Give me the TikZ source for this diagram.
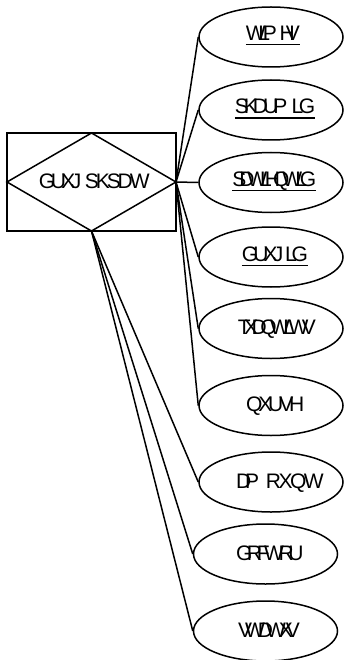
\documentclass[tikz,border=0pt]{standalone}
\usepackage{fontspec}
\setmainfont{Liberation Sans}
\usetikzlibrary{shapes.geometric}
\ExplSyntaxOn
\NewDocumentCommand\trk{mm}{\hbox{\tl_map_inline:nn{#2}{##1\kern#1}\unkern}}
\ExplSyntaxOff
\newcommand\lgap[1]{~\kern#1}
\newcommand\ulab[1]{\setbox0=\hbox{#1}\rlap{\rule[-4.8pt]{\wd0}{1.3pt}}\box0}
\begin{document}
\begin{tikzpicture}[x=1pt,y=-1pt,line width=1.5pt,
  attr/.style={draw, ellipse, minimum width=144pt, minimum height=60pt, inner sep=0pt},
  lab/.style={inner sep=0pt, anchor=base west, font=\fontsize{21}{25}\selectfont},
  entbox/.style={draw, rectangle, minimum width=169pt, minimum height=98pt, inner sep=0pt, outer sep=0pt},
  entlabel/.style={inner sep=0pt, anchor=base west, font=\fontsize{21}{25}\selectfont},
  link/.style={draw}]
\useasboundingbox (0,0) rectangle (345,660);
% entity / relationship
\node[entbox] (ent) at (91.5,182) {};
\draw (ent.west) -- (ent.north) -- (ent.east) -- (ent.south) -- cycle;
\node[entlabel] (entlab) at (38.2,188.3) {\trk{-4.5pt}{GUXJ}\lgap{-2.3pt}\trk{-3.1pt}{SKSDW}};
% attributes
\node[attr] (a1) at (271,37) {};
\node[attr] (a2) at (271,110) {};
\node[attr] (a3) at (271,182.5) {};
\node[attr] (a4) at (271,257) {};
\node[attr] (a5) at (271,328.5) {};
\node[attr] (a6) at (271,405.5) {};
\node[attr] (a7) at (271,482) {};
\node[attr] (a8) at (265.5,554) {};
\node[attr] (a9) at (265.5,631) {};
% labels
\node[lab] (l1) at (245,40.5) {\ulab{\trk{-7.2pt}{WLP}\lgap{-3.1pt}\trk{-9pt}{HV}}};
\node[lab] (l2) at (234.2,114) {\ulab{\trk{-5pt}{SKDUP}\lgap{-1.4pt}\trk{-4.5pt}{LG}}};
\node[lab] (l3) at (231.5,186.5) {\ulab{\trk{-7pt}{SDWLHQWLG}}};
\node[lab] (l4) at (241,261) {\ulab{\trk{-4.8pt}{GUXJ}\lgap{-4.1pt}\trk{-5.2pt}{LG}}};
\node[lab] (l5) at (237,334.5) {\trk{-6.5pt}{TXDQWLWV}};
\node[lab] (l6) at (245.3,411.5) {\trk{-4.1pt}{QXUVH}};
\node[lab] (l7) at (235.3,488) {\trk{-6.1pt}{DP}\lgap{1pt}\trk{-2.5pt}{RXQW}};
\node[lab] (l8) at (235.3,560) {\trk{-5.4pt}{GRFWRU}};
\node[lab] (l9) at (237.3,637) {\trk{-7pt}{VWDWXV}};
% connectors
\foreach \i in {1,...,6} {\path[link] (ent.east) -- (a\i.west);}
\foreach \i in {7,8,9} {\path[link] (ent.south) -- (a\i.west);}
\end{tikzpicture}
\end{document}
